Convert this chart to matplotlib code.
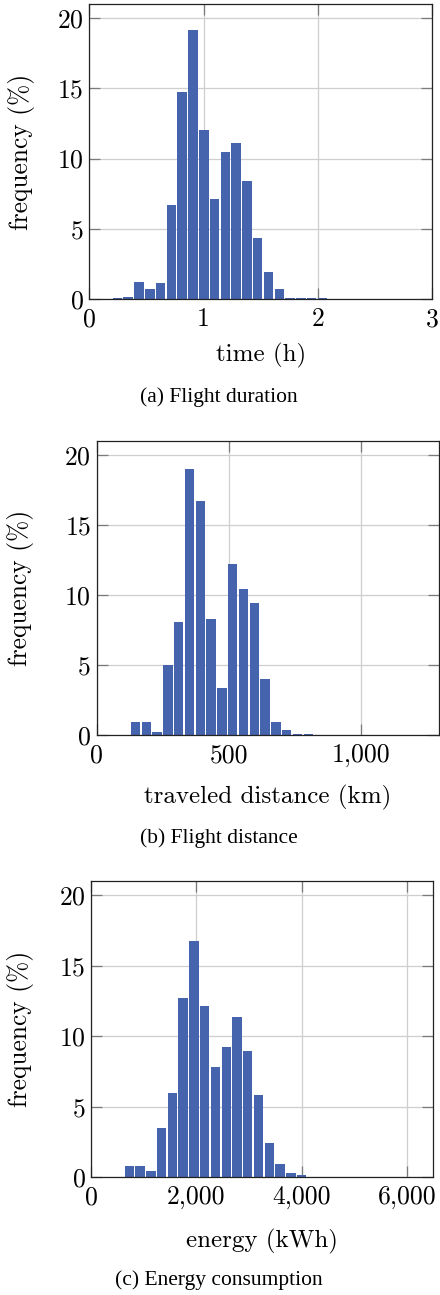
"""Histograms of flight duration, distance and energy consumption."""
import numpy as np
import matplotlib
matplotlib.use("Agg")
import matplotlib.pyplot as plt
from matplotlib.ticker import FuncFormatter

# Bin layout (start, width) and frequencies (%)
dur_start, dur_width = 0.01, 0.0944
dur_freq = [0.02, 0, 0.05, 0.15, 1.2, 0.71, 1.14, 6.67, 14.72, 19.17,
            12.02, 7.15, 10.46, 11.12, 8.38, 4.31, 1.89, 0.71, 0.1, 0.08,
            0.05, 0.05, 0.02, 0, 0.02, 0, 0, 0, 0, 0.02]

dist_start, dist_width = 4.6, 40.8
dist_freq = [0, 0, 0, 0.93, 0.90, 0.24, 4.99, 8.03, 18.95, 16.67,
             8.27, 3.33, 12.23, 10.45, 9.45, 3.97, 0.93, 0.36, 0.07, 0.07,
             0, 0, 0, 0, 0, 0, 0, 0, 0, 0]

en_start, en_width = 218, 204
en_freq = [0.05, 0.05, 0.80, 0.80, 0.45, 3.48, 5.99, 12.73, 16.76, 12.17,
           7.83, 9.21, 11.34, 8.97, 5.80, 2.46, 0.97, 0.33, 0.14, 0.02,
           0, 0.03, 0, 0, 0, 0, 0, 0.02, 0, 0.02]

xlabels = ["time (h)", "traveled distance (km)", "energy (kWh)"]
captions = ["(a) Flight duration", "(b) Flight distance", "(c) Energy consumption"]
xticks = [[0, 1, 2, 3], [0, 500, 1000], [0, 2000, 4000, 6000]]
xmax = [3, 1295, 6490]

plt.rcParams["font.family"] = "cmr10"
plt.rcParams["axes.formatter.use_mathtext"] = True

W, H = 440, 1295
fig = plt.figure(figsize=(W / 100, H / 100), dpi=100)

# axes boxes in pixels: left, right, top, bottom
boxes = [(89.3, 432.3, 4, 299), (96.5, 439.3, 440.7, 735), (91, 433.3, 881, 1177.3)]
label_y = [355, 797, 1241]
caption_y = [397, 838, 1280]

bar_color = "#4564ad"
data = [(dur_start, dur_width, dur_freq),
        (dist_start, dist_width, dist_freq),
        (en_start, en_width, en_freq)]

for i, (start, width, freq) in enumerate(data):
    l, r, t, b = boxes[i]
    ax = fig.add_axes([l / W, 1 - b / H, (r - l) / W, (b - t) / H])
    edges = start + width * np.arange(len(freq))
    gap = 1.3 * xmax[i] / (r - l)  # ~1 px white gap between bars
    ax.bar(edges + gap / 2, freq, width=width - gap, align="edge",
           color=bar_color, linewidth=0, zorder=2)
    ax.set_xlim(0, xmax[i])
    ax.set_ylim(0, 21)
    ax.set_yticks([0, 5, 10, 15, 20])
    ax.set_xticks(xticks[i])
    ax.xaxis.set_major_formatter(FuncFormatter(lambda v, p: f"{int(v):,}"))
    ax.grid(True, color="#cfcfcf", linewidth=0.9, zorder=0)
    ax.set_axisbelow(True)
    ax.tick_params(direction="in", length=8, width=0.9, color="#7a7a7a",
                   top=True, right=True, labelsize=18.5)
    ax.tick_params(axis="x", pad=6)
    ax.tick_params(axis="y", pad=4)
    for s in ax.spines.values():
        s.set_color("#222222")
        s.set_linewidth(0.9)
    ax.set_ylabel("frequency (%)", fontsize=18.3)
    ax.yaxis.set_label_coords(-(l - 21) / (r - l), 0.5)
    ax.set_xlabel(xlabels[i], fontsize=18)
    ax.xaxis.set_label_coords(0.5, -(label_y[i] - b) / (b - t))
    ax.xaxis.label.set_va("center")
    ax.yaxis.label.set_va("center")
    fig.text(219 / W, 1 - caption_y[i] / H, captions[i], ha="center",
             va="center", fontsize=15.5, family="Liberation Serif")

fig.savefig("out.png", dpi=100)
